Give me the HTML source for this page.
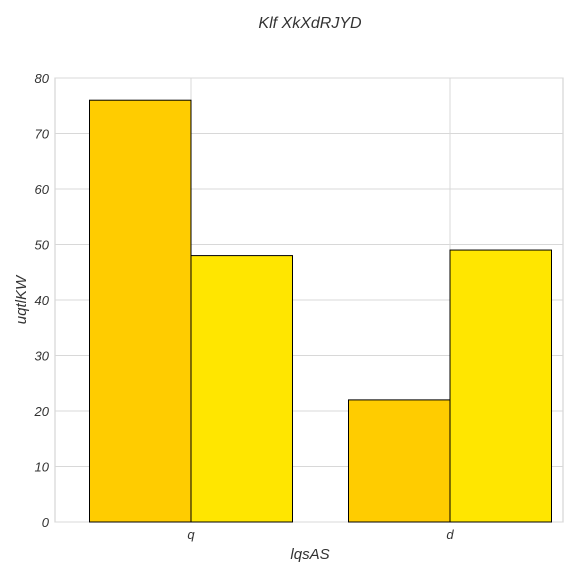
<!DOCTYPE html>
<html><head><meta charset="utf-8"><style>
body{margin:0;background:#fff;}
svg{display:block;font-family:"Liberation Sans",sans-serif;font-style:italic;}
</style></head><body>
<svg id="chart" width="576" height="576" viewBox="0 0 576 576">
<text x="310" y="28" text-anchor="middle" font-size="16" fill="#333">Klf XkXdRJYD</text>
<text x="310" y="559" text-anchor="middle" font-size="15" fill="#333">lqsAS</text>
<text x="26" y="300" text-anchor="middle" font-size="15" fill="#333" transform="rotate(-90 26 300)">uqtlKW</text>
<g id="grid"></g>
<g id="bars"></g>
<g id="labels"></g>
</svg>
<script>
const categories = ["q", "d"];
const series1 = [76, 22];
const series2 = [48, 49];
const yTicks = [0, 10, 20, 30, 40, 50, 60, 70, 80];
const colors = ["#FFCC00", "#FFE600"];

const L = 55, R = 563, T = 78, B = 522;
const y = v => B - (v / 80) * (B - T);
const x = i => 191 + i * 259;
const bw = 101.5;
const ns = "http://www.w3.org/2000/svg";
function mk(tag, attrs, parent) {
  const e = document.createElementNS(ns, tag);
  for (const k in attrs) e.setAttribute(k, attrs[k]);
  parent.appendChild(e);
  return e;
}
const grid = document.getElementById("grid");
const bars = document.getElementById("bars");
const labels = document.getElementById("labels");
const frame = mk("rect", {x: L, y: T, width: R - L, height: B - T, fill: "none", stroke: "#ccc"}, grid);


yTicks.forEach(t => {
  const gl = mk("line", {x1: L, x2: R, y1: y(t), y2: y(t), stroke: "#d8d8d8"}, grid);
  
  
  const tl = mk("text", {x: L - 6, y: y(t) + 5, "text-anchor": "end", "font-size": "13", fill: "#333"}, labels);
  tl.textContent = t;
  
  
});
categories.forEach((c, i) => {
  const gl = mk("line", {x1: x(i), x2: x(i), y1: T, y2: B, stroke: "#d8d8d8"}, grid);
  
  
  const tl = mk("text", {x: x(i), y: B + 17, "text-anchor": "middle", "font-size": "13", fill: "#333"}, labels);
  tl.textContent = c;
  
  
  [series1, series2].forEach((s, k) => {
    const bx = k === 0 ? x(i) - bw : x(i);
    const r = mk("rect", {x: bx, y: y(s[i]), width: bw, height: B - y(s[i]), fill: colors[k], stroke: "#000", "stroke-width": "1"}, bars);
    
    
  });
});
</script>
</body></html>
